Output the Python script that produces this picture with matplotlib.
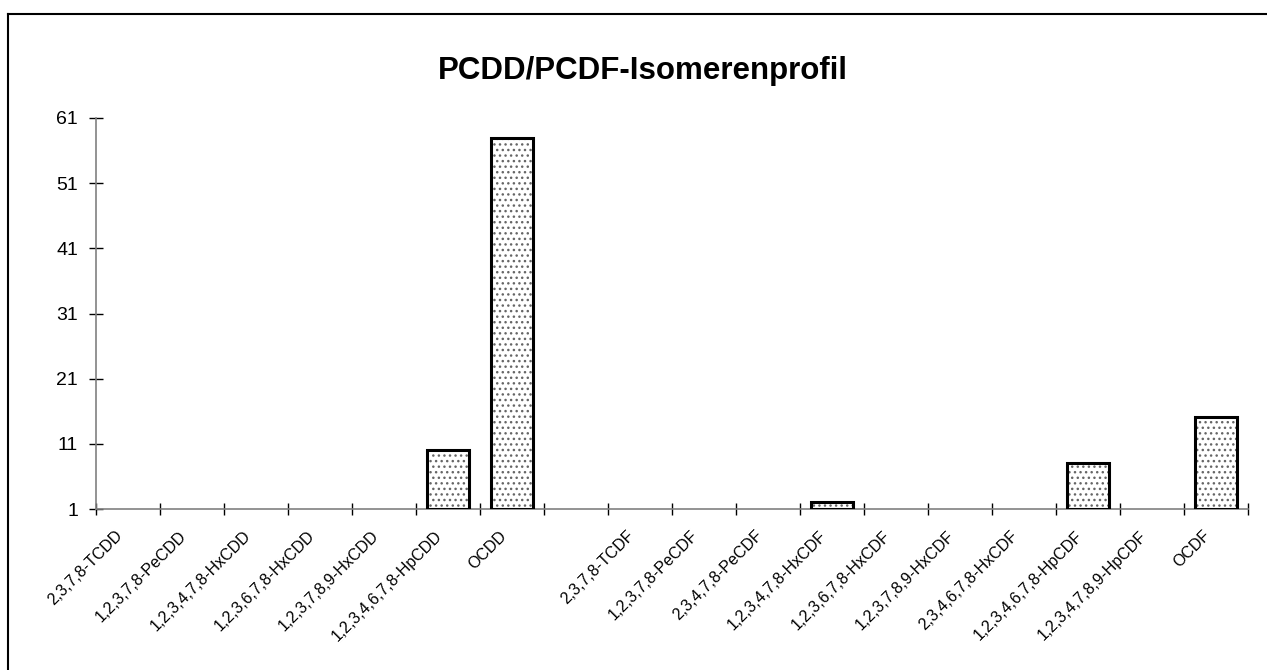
import numpy as np
import matplotlib
matplotlib.use('Agg')
import matplotlib.pyplot as plt
from matplotlib.transforms import ScaledTranslation
from matplotlib.lines import Line2D

categories = ['2,3,7,8-TCDD', '1,2,3,7,8-PeCDD', '1,2,3,4,7,8-HxCDD',
              '1,2,3,6,7,8-HxCDD', '1,2,3,7,8,9-HxCDD', '1,2,3,4,6,7,8-HpCDD',
              'OCDD', '', '2,3,7,8-TCDF', '1,2,3,7,8-PeCDF', '2,3,4,7,8-PeCDF',
              '1,2,3,4,7,8-HxCDF', '1,2,3,6,7,8-HxCDF', '1,2,3,7,8,9-HxCDF',
              '2,3,4,6,7,8-HxCDF', '1,2,3,4,6,7,8-HpCDF', '1,2,3,4,7,8,9-HpCDF',
              'OCDF']
values = [0, 0, 0, 0, 0, 10, 58, 0, 0, 0, 0, 2.05, 0, 0, 0, 8.1, 0, 15.1]
y_ticks = [1, 11, 21, 31, 41, 51, 61]
title = 'PCDD/PCDF-Isomerenprofil'

plt.rcParams['font.family'] = ['Liberation Sans', 'DejaVu Sans']
plt.rcParams['hatch.linewidth'] = 1.0

W, H = 1267, 670
fig = plt.figure(figsize=(W / 100, H / 100), dpi=100)
ax = fig.add_axes([96 / W, 1 - 509 / H, 1152 / W, 391 / H])

base = 1
x = np.arange(len(categories))
idx = [i for i, v in enumerate(values) if v >= base]
xs = [x[i] for i in idx]
hs = [values[i] - base for i in idx]
# fill with gray dotted pattern
ax.bar(xs, hs, bottom=base, width=0.66, color='white', edgecolor='#666666',
       linewidth=0, hatch='...', zorder=3)
# black outline
ax.bar(xs, hs, bottom=base, width=0.66, fill=False, edgecolor='black',
       linewidth=2.2, zorder=4)

ax.set_xlim(-0.5, len(categories) - 0.5)
ax.set_ylim(base, 61)
ax.set_yticks(y_ticks)
ax.set_yticklabels([str(t) for t in y_ticks])

ax.set_xticks(x)
ax.set_xticklabels(categories, rotation=45, ha='right', va='center',
                   rotation_mode='anchor')
ax.set_xticks(np.arange(len(categories) + 1) - 0.5, minor=True)
ax.tick_params(axis='x', which='major', length=0, pad=17.5, labelsize=11.5)
ax.tick_params(axis='x', which='minor', direction='inout', length=8,
               width=1, color='black')
ax.tick_params(axis='y', which='major', direction='inout', length=9.4,
               width=1, color='black', labelsize=14, pad=8.3)

offset = ScaledTranslation(-8 / 100, 0, fig.dpi_scale_trans)
for lab in ax.get_xticklabels():
    lab.set_transform(lab.get_transform() + offset)

for s in ['top', 'right']:
    ax.spines[s].set_visible(False)
for s in ['left', 'bottom']:
    ax.spines[s].set_color('#808080')
    ax.spines[s].set_linewidth(1.2)

fig.text(643 / W, 1 - 79 / H, title, ha='center', va='baseline',
         fontsize=22.5, fontweight='bold')

# outer frame (left and top edges visible)
fig.add_artist(Line2D([8 / W, 8 / W], [0, 1 - 14 / H], color='black',
                      linewidth=1.5, transform=fig.transFigure))
fig.add_artist(Line2D([8 / W, 1], [1 - 14 / H, 1 - 14 / H], color='black',
                      linewidth=1.5, transform=fig.transFigure))

fig.savefig('out.png', dpi=100)
